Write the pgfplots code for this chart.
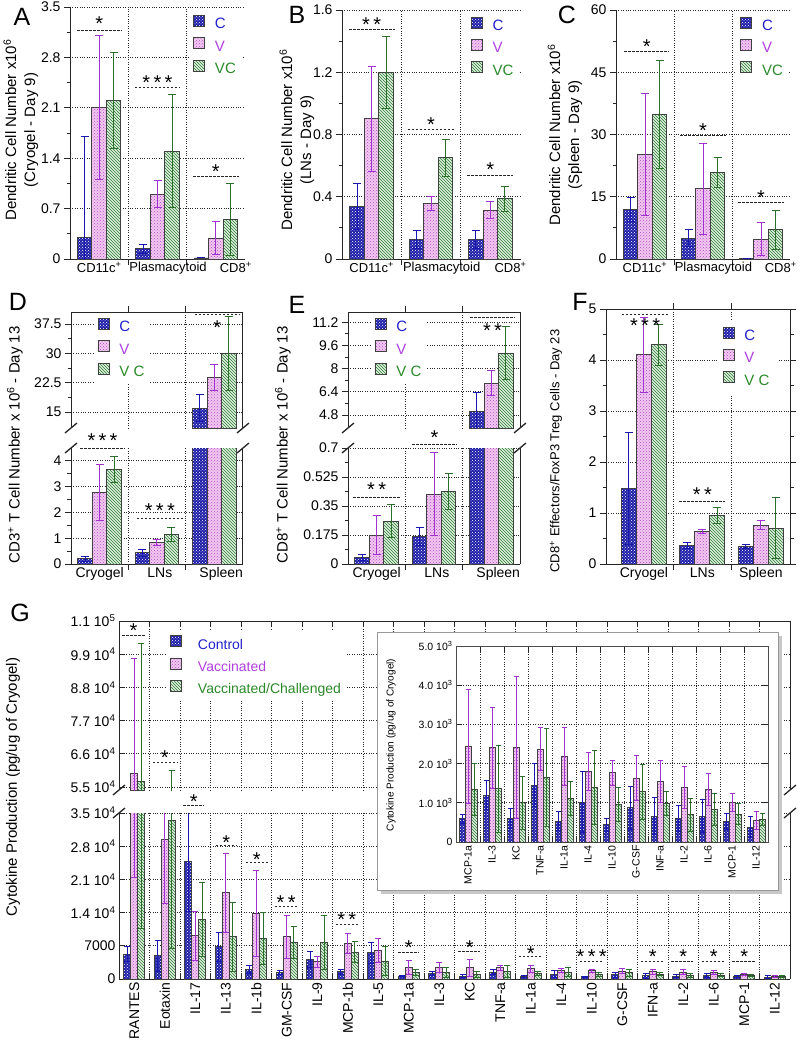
\documentclass[border=0pt]{standalone}
\usepackage{pgfplots}
\pgfplotsset{compat=1.18}
\usepackage{pgfplotstable}
\usepackage{fontspec}
\setmainfont{Liberation Sans}
\usetikzlibrary{patterns}

\definecolor{fC}{HTML}{1E1EA8}
\definecolor{eC}{HTML}{1818B0}
\definecolor{fV}{HTML}{F3C8F0}
\definecolor{pV}{HTML}{B04CC8}
\definecolor{eV}{HTML}{A030D0}
\definecolor{fG}{HTML}{DDF0DD}
\definecolor{pG}{HTML}{2F7A35}
\definecolor{eG}{HTML}{2A702A}
\definecolor{tC}{HTML}{2222CC}
\definecolor{tV}{HTML}{B040E0}
\definecolor{tG}{HTML}{2A8A2A}

% x = group, c/v/g = Control / Vaccinated / Vacc.-Challenged, e = error
\pgfplotstableread{
x c ce v ve g ge
0 0.30 1.40 2.10 1.00 2.20 0.67
1 0.14 0.06 0.90 0.19 1.50 0.78
2 0.014 0 0.29 0.23 0.55 0.50
}\tabA
\pgfplotstableread{
x c ce v ve g ge
0 0.337 0.145 0.90 0.34 1.20 0.23
1 0.128 0.058 0.356 0.044 0.65 0.12
2 0.128 0.058 0.314 0.055 0.388 0.08
}\tabB
\pgfplotstableread{
x c ce v ve g ge
0 12.0 2.9 25.1 14.7 34.9 13.0
1 5.05 2.0 16.9 11.0 20.9 3.6
2 0.24 0 4.8 3.9 7.06 4.65
}\tabC
\pgfplotstableread{
x c ce v ve g ge
0 0.20 0.09 2.77 1.10 3.67 0.51
1 0.43 0.12 0.84 0.13 1.15 0.28
2 16.0 3.5 23.8 3.4 30.0 9.5
}\tabD
\pgfplotstableread{
x c ce v ve g ge
0 0.04 0.02 0.174 0.116 0.258 0.10
1 0.166 0.054 0.422 0.25 0.436 0.108
2 5.03 1.31 6.98 0.86 9.06 1.84
}\tabE
\pgfplotstableread{
x c ce v ve g ge
0 1.48 1.09 4.10 0.73 4.30 0.40
1 0.37 0.06 0.63 0.04 0.95 0.15
2 0.35 0.04 0.76 0.09 0.70 0.60
}\tabF
\pgfplotstableread{
x c ce v ve g ge
0 5250 1550 59500 38000 56700 46000
1 4900 3300 29500 13600 33500 27000
2 24800 10500 9100 5200 12500 7800
3 6800 3100 18200 8300 8900 7300
4 2000 900 13800 9100 8500 5500
5 1300 450 8900 4500 7700 3400
6 4100 1600 3600 1100 7700 5700
7 1500 600 7500 2200 5700 2300
8 5500 2200 5950 2550 3800 3000
9 590 110 2440 1460 1340 660
10 1190 370 2400 1030 1360 1110
11 600 250 2400 1810 1000 680
12 1450 550 2370 540 1640 1250
13 530 240 2170 740 1110 440
14 1020 770 1800 480 1390 950
15 440 160 1770 320 950 430
16 870 550 1630 570 1280 700
17 660 470 1550 540 980 300
18 600 340 1390 540 700 420
19 660 420 1340 420 830 400
20 530 210 1000 230 715 265
21 380 260 550 230 570 150
}\tabG

\pgfplotsset{
  swatch/.style={legend image code/.code={\draw[##1,draw=black!75,line width=0.8pt] (0pt,-2pt) rectangle (11pt,9pt);}},
  eb/.style 2 args={error bars/y dir=both, error bars/y explicit,
    error bars/error bar style={draw=#1,line width=1pt,solid},
    error bars/error mark options={rotate=90,draw=#1,line width=1pt,mark size=#2}},
  barC/.style={draw=black!75, line width=0.9pt, fill=fC, postaction={pattern=crosshatch dots, pattern color=white}, swatch, eb={eC}{#1}},
  barC/.default=4pt,
  barV/.style={draw=black!75, line width=0.9pt, fill=fV, postaction={pattern=crosshatch dots, pattern color=pV}, swatch, eb={eV}{#1}},
  barV/.default=4pt,
  barG/.style={draw=black!75, line width=0.9pt, fill=fG, postaction={pattern=north west lines, pattern color=pG}, swatch, eb={eG}{#1}},
  barG/.default=4pt,
  panel/.style={scale only axis, anchor=south west, ybar=0pt, clip mode=individual, clip marker paths=true,
    scaled y ticks=false,
    /pgf/number format/assume math mode=true,
    tick label style={font=\fontsize{14}{16}\selectfont, black},
    axis line style={line width=1pt, black!85},
    tick style={line width=0.9pt, black!85},
    major tick length=6pt, minor tick length=3.5pt, tick align=outside,
    xmajorgrids, ymajorgrids, major grid style={dotted, line width=0.9pt, black!85},
    xmin=-0.5, xmax=2.5, xtick={0.5,1.5}, xticklabels={,,,,,,,,,,,,,,,,,,,,,,,},
    minor y tick num=1, bar width=14.5pt,
    legend style={draw=none, fill=white, font=\fontsize{15}{15}\selectfont, row sep=5pt, inner sep=4pt,
      /tikz/every odd column/.append style={column sep=8pt}},
    legend cell align=left,
    extra x tick style={xmajorgrids=false, major tick length=0pt}},
  toprow/.style={axis x line*=bottom, axis y line*=left,
    extra x ticks={0,1.18,2.34},
    extra x tick labels={CD11c\textsuperscript{+},Plasmacytoid,CD8\textsuperscript{+}},
    extra x tick style={tick label style={font=\fontsize{13}{15}\selectfont}}},
}

\newcommand\sig[6]{%
  \draw[black!85, line width=0.9pt, dash pattern=on 2.5pt off 1.5pt] (axis cs:#1,#3) -- (axis cs:#2,#3);
  \node[font=\fontsize{20}{20}\selectfont, inner sep=0pt, yshift=-4pt] at (axis cs:#4,#5) {#6};}
\newcommand\brk[2]{\draw[line width=1.3pt, black!85] ({#1pt-6pt},{-#2pt-5pt}) -- ({#1pt+6pt},{-#2pt+5pt});}
\newcommand\threebars[2][4pt]{%
  \addplot[barC=#1] table[x=x,y=c,y error=ce]{#2};
  \addplot[barV=#1] table[x=x,y=v,y error=ve]{#2};
  \addplot[barG=#1] table[x=x,y=g,y error=ge]{#2};}

\begin{document}
\begin{tikzpicture}
\useasboundingbox (0,0) rectangle (800pt,-1047pt);

% ---------- A ----------
\begin{axis}[panel, toprow, at={(70pt,-259pt)}, width=175pt, height=252pt,
  ymin=0, ymax=3.5, ytick={0,0.7,1.4,2.1,2.8,3.5},
  legend style={at={(0.68,0.985)}, anchor=north west}]
\threebars{\tabA}
\legend{\textcolor{tC}{C},\textcolor{tV}{V},\textcolor{tG}{VC}}
\sig{-0.38}{0.39}{3.18}{0}{3.32}{*}
\sig{0.61}{1.39}{2.38}{1}{2.51}{*\,*\,*}
\sig{1.61}{2.39}{1.14}{2}{1.27}{*}
\end{axis}

% ---------- B ----------
\begin{axis}[panel, toprow, at={(342pt,-259pt)}, width=178pt, height=249pt,
  ymin=0, ymax=1.6, ytick={0,0.4,0.8,1.2,1.6},
  legend style={at={(0.7,0.99)}, anchor=north west}]
\threebars{\tabB}
\legend{\textcolor{tC}{C},\textcolor{tV}{V},\textcolor{tG}{VC}}
\sig{-0.38}{0.39}{1.476}{0}{1.53}{*\,*}
\sig{0.61}{1.39}{0.832}{1}{0.89}{*}
\sig{1.61}{2.39}{0.54}{2}{0.6}{*}
\end{axis}

% ---------- C ----------
\begin{axis}[panel, toprow, at={(616pt,-259pt)}, width=174pt, height=249pt,
  ymin=0, ymax=60, ytick={0,15,30,45,60},
  legend style={at={(0.69,0.99)}, anchor=north west}]
\threebars{\tabC}
\legend{\textcolor{tC}{C},\textcolor{tV}{V},\textcolor{tG}{VC}}
\sig{-0.36}{0.42}{50}{0.03}{52.1}{*}
\sig{0.61}{1.39}{29.7}{1}{31.8}{*}
\sig{1.61}{2.39}{13.7}{2}{15.7}{*}
\end{axis}

% ---------- D ----------
\begin{axis}[panel, at={(71pt,-564pt)}, width=172pt, height=116pt,
  axis x line*=bottom, axis y line*=box, ytick pos=left,
  ymin=0, ymax=4.5, ytick={0,1,2,3,4},
  extra x ticks={0,1.05,2.12}, extra x tick labels={Cryogel,LNs,Spleen}]
\threebars{\tabD}
\sig{-0.34}{0.44}{4.47}{0.05}{4.93}{*\,*\,*}
\sig{0.65}{1.45}{1.77}{1.05}{2.23}{*\,*\,*}
\end{axis}
\begin{axis}[panel, at={(71pt,-428pt)}, width=172pt, height=116pt,
  axis x line*=top, axis y line*=box, ytick pos=left,
  ymin=10.9, ymax=40.6, ytick={15,22.5,30,37.5}, restrict y to domain=10.9:1000,
  legend style={at={(0.13,0.985)}, anchor=north west}]
\threebars{\tabD}
\legend{\textcolor{tC}{C},\textcolor{tV}{V},\textcolor{tG}{V C}}
\sig{1.66}{2.45}{40.1}{2.05}{37.5}{*}
\end{axis}

% ---------- E ----------
\begin{axis}[panel, at={(348pt,-564pt)}, width=172pt, height=116pt,
  axis x line*=bottom, axis y line*=box, ytick pos=left,
  ymin=0, ymax=0.7, ytick={0,0.175,0.35,0.525,0.7}, yticklabels={0,0.175,0.35,0.525,0.7},
  extra x ticks={0,1.05,2.12}, extra x tick labels={Cryogel,LNs,Spleen}]
\threebars{\tabE}
\sig{-0.41}{0.41}{0.404}{0}{0.474}{*\,*}
\sig{0.62}{1.40}{0.72}{1.01}{0.785}{*}
\end{axis}
\begin{axis}[panel, at={(348pt,-428pt)}, width=172pt, height=116pt,
  axis x line*=top, axis y line*=box, ytick pos=left,
  ymin=3.9, ymax=11.9, ytick={4.8,6.4,8,9.6,11.2}, restrict y to domain=3.9:1000,
  legend style={at={(0.13,0.985)}, anchor=north west}]
\threebars{\tabE}
\legend{\textcolor{tC}{C},\textcolor{tV}{V},\textcolor{tG}{V C}}
\sig{1.63}{2.41}{11.55}{2.02}{10.9}{*\,*}
\end{axis}

% ---------- F ----------
\begin{axis}[panel, at={(606pt,-564pt)}, width=184pt, height=255pt,
  xmin=-0.65, xmax=2.5, bar width=15pt,
  ymin=0, ymax=5, ytick={0,1,2,3,4,5},
  extra x ticks={0,1,2}, extra x tick labels={Cryogel,LNs,Spleen},
  legend style={at={(0.6,0.955)}, anchor=north west, inner sep=6pt}]
\threebars{\tabF}
\legend{\textcolor{tC}{C},\textcolor{tV}{V},\textcolor{tG}{V C}}
\sig{-0.38}{0.41}{4.9}{0.02}{4.75}{*\,*\,*}
\sig{0.6}{1.39}{1.23}{1}{1.44}{*\,*}
\end{axis}

% ---------- G ----------
\begin{axis}[panel, at={(119pt,-979pt)}, width=671pt, height=166pt,
  axis x line*=bottom, axis y line*=box, ytick pos=left, tick align=inside,
  xmin=-0.5, xmax=21.5, xtick={0.5,1.5,...,20.5},
  ymin=0, ymax=35000, ytick={0,7000,14000,21000,28000,35000},
  yticklabels={0,7000,1.4 10\textsuperscript{4},2.1 10\textsuperscript{4},2.8 10\textsuperscript{4},3.5 10\textsuperscript{4}},
  minor y tick num=0, bar width=7pt,
  extra x ticks={0,...,21},
  extra x tick labels={RANTES,Eotaxin,IL-17,IL-13,IL-1b,GM-CSF,IL-9,MCP-1b,IL-5,MCP-1a,IL-3,KC,TNF-a,IL-1a,IL-4,IL-10,G-CSF,IFN-a,IL-2,IL-6,MCP-1,IL-12},
  extra x tick style={xmajorgrids=false, major tick length=0pt, tick label style={rotate=90, anchor=east}}]
\threebars[3pt]{\tabG}
\sig{1.6}{2.3}{36500}{1.95}{38200}{*}
\sig{2.68}{3.37}{28100}{3.02}{29700}{*}
\sig{3.66}{4.38}{24500}{4.02}{26100}{*}
\sig{4.6}{5.37}{15240}{4.98}{17000}{*\,*}
\sig{6.6}{7.34}{11500}{6.97}{13300}{*\,*}
\sig{8.65}{9.35}{5630}{9}{7530}{*}
\sig{10.62}{11.35}{5760}{11}{7500}{*}
\sig{12.6}{13.37}{4700}{13}{6110}{*}
\sig{14.6}{15.37}{3790}{15}{5550}{*\,*\,*}
\sig{16.6}{17.34}{3790}{17}{5500}{*}
\sig{17.6}{18.33}{3790}{18}{5500}{*}
\sig{18.6}{19.33}{3790}{19}{5500}{*}
\sig{19.6}{20.35}{3790}{20}{5500}{*}
\end{axis}
\begin{axis}[panel, at={(119pt,-790pt)}, width=671pt, height=169pt,
  axis x line*=top, axis y line*=box, ytick pos=left, tick align=inside,
  xmin=-0.5, xmax=21.5, xtick={0.5,1.5,...,20.5},
  ymin=54000, ymax=110000, ytick={55000,66000,77000,88000,99000,110000},
  yticklabels={5.5 10\textsuperscript{4},6.6 10\textsuperscript{4},7.7 10\textsuperscript{4},8.8 10\textsuperscript{4},9.9 10\textsuperscript{4},1.1 10\textsuperscript{5}},
  minor y tick num=0, bar width=7pt,
  legend style={at={(0.07,0.94)}, anchor=north west, font=\fontsize{14}{14}\selectfont,
    /tikz/every odd column/.append style={column sep=14pt}}]
\addlegendimage{barC=3pt}
\addlegendimage{barV=3pt}
\addlegendimage{barG=3pt}
\addplot[barC=3pt, bar shift=-7pt, restrict y to domain=54000:200000, forget plot] table[x=x,y=c,y error=ce]{\tabG};
\addplot[barV=3pt, bar shift=0pt, restrict y to domain=54000:200000, forget plot] table[x=x,y=v,y error=ve]{\tabG};
\addplot[barG=3pt, bar shift=7pt, restrict y to domain=54000:200000, forget plot] table[x=x,y=g,y error=ge]{\tabG};
% Eotaxin VC error bar reaching into the upper segment
\addplot[draw=none, bar shift=7pt, eb={eG}{3pt}, forget plot] coordinates {(1,33500) +- (0,27000)};
\legend{\textcolor{tC}{Control},\textcolor{tV}{Vaccinated},\textcolor{tG}{Vaccinated/Challenged}}
\sig{-0.4}{0.35}{105100}{-0.02}{108100}{*}
\sig{0.61}{1.4}{63000}{1}{66000}{*}
\end{axis}

% inset panel
\fill[black!22] (381pt,-636pt) rectangle (782pt,-894pt);
\filldraw[fill=white, draw=black!40, line width=0.6pt] (377pt,-632pt) rectangle (778pt,-890pt);
\begin{axis}[panel, at={(456pt,-842pt)}, width=312pt, height=196pt,
  tick align=inside, xmin=8.5, xmax=21.5, xtick={9.5,10.5,...,20.5},
  restrict x to domain=8.5:22,
  ymin=0, ymax=5000, ytick={0,1000,2000,3000,4000,5000},
  yticklabels={0,1.0 10\textsuperscript{3},2.0 10\textsuperscript{3},3.0 10\textsuperscript{3},4.0 10\textsuperscript{3},5.0 10\textsuperscript{3}},
  minor y tick num=0, bar width=6pt,
  tick label style={font=\fontsize{10.5}{12}\selectfont},
  axis line style={line width=1pt, black!70},
  extra x ticks={9,...,21},
  extra x tick labels={MCP-1a,IL-3,KC,TNF-a,IL-1a,IL-4,IL-10,G-CSF,INF-a,IL-2,IL-6,MCP-1,IL-12},
  extra x tick style={xmajorgrids=false, major tick length=0pt, tick label style={rotate=90, anchor=east}}]
\threebars[2.5pt]{\tabG}
\end{axis}
\node[rotate=90, font=\fontsize{10}{12}\selectfont] at (391pt,-745pt) {Cytokine Production (pg/ug of Cryogel)};

% axis breaks
\brk{71}{428}\brk{71}{448}\brk{243}{428}\brk{243}{448}
\brk{348}{428}\brk{348}{448}\brk{520}{428}\brk{520}{448}
\brk{119}{790}\brk{119}{813}\brk{790}{790}\brk{790}{813}

% axis titles
\node[rotate=90, align=center, font=\fontsize{15}{19}\selectfont] at (21pt,-130pt) {Dendritic Cell Number x10\textsuperscript{6}\\(Cryogel - Day 9)};
\node[rotate=90, align=center, font=\fontsize{15}{19}\selectfont] at (297pt,-140pt) {Dendritic Cell Number x10\textsuperscript{6}\\(LNs - Day 9)};
\node[rotate=90, align=center, font=\fontsize{15}{19}\selectfont] at (565pt,-135pt) {Dendritic Cell Number x10\textsuperscript{6}\\(Spleen - Day 9)};
\node[rotate=90, font=\fontsize{15}{18}\selectfont] at (15pt,-445pt) {CD3\textsuperscript{+} T Cell Number x 10\textsuperscript{6} - Day 13};
\node[rotate=90, font=\fontsize{15}{18}\selectfont] at (283pt,-445pt) {CD8\textsuperscript{+} T Cell Number x 10\textsuperscript{6} - Day 13};
\node[rotate=90, font=\fontsize{13}{16}\selectfont] at (556pt,-451pt) {CD8\textsuperscript{+} Effectors/FoxP3 Treg Cells - Day 23};
\node[rotate=90, font=\fontsize{15}{18}\selectfont] at (13pt,-787pt) {Cytokine Production (pg/ug of Cryogel)};

% panel letters
\node[font=\fontsize{25}{25}\selectfont] at (22pt,-17pt) {A};
\node[font=\fontsize{25}{25}\selectfont] at (297pt,-15pt) {B};
\node[font=\fontsize{25}{25}\selectfont] at (567pt,-15pt) {C};
\node[font=\fontsize{25}{25}\selectfont] at (18pt,-302pt) {D};
\node[font=\fontsize{25}{25}\selectfont] at (297pt,-305pt) {E};
\node[font=\fontsize{25}{25}\selectfont] at (580pt,-302pt) {F};
\node[font=\fontsize{25}{25}\selectfont] at (20pt,-613pt) {G};
\end{tikzpicture}
\end{document}
